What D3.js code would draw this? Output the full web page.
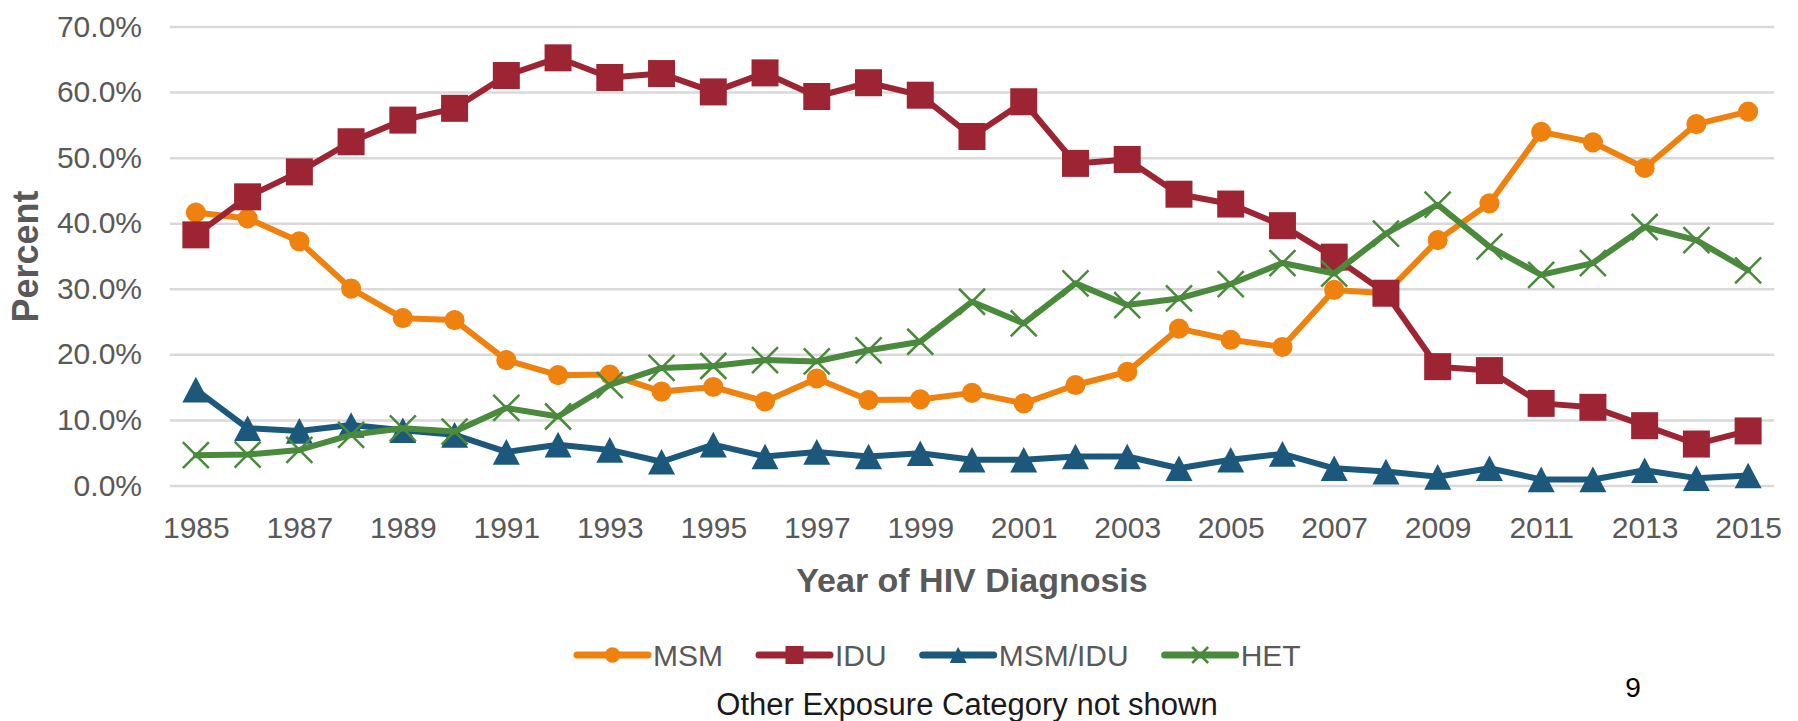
<!DOCTYPE html>
<html>
<head>
<meta charset="utf-8">
<script src="https://cdn.jsdelivr.net/npm/d3@7"></script>
<style>
  html, body { margin: 0; padding: 0; background: #ffffff; }
  svg { display: block; }
  text { font-family: "Liberation Sans", Arial, sans-serif; }
</style>
</head>
<body>
<svg id="chart" width="1798" height="721"></svg>
<script>
// ---------------- data ----------------
const years = d3.range(1985, 2016);
const xTickLabels = [1985, 1987, 1989, 1991, 1993, 1995, 1997, 1999, 2001, 2003, 2005, 2007, 2009, 2011, 2013, 2015];
const yTicks = [0, 10, 20, 30, 40, 50, 60, 70];

const msm = [41.7, 40.8, 37.3, 30.1, 25.6, 25.3, 19.2, 16.9, 17.0, 14.4, 15.1, 12.9, 16.4, 13.1, 13.2, 14.2,
             12.6, 15.4, 17.4, 24.0, 22.3, 21.2, 29.9, 29.4, 37.5, 43.1, 54.0, 52.4, 48.5, 55.2, 57.1];
const idu = [38.3, 44.1, 47.9, 52.5, 55.8, 57.6, 62.6, 65.3, 62.3, 62.9, 60.1, 63.0, 59.4, 61.5, 59.6, 53.3,
             58.6, 49.2, 49.8, 44.5, 43.0, 39.7, 34.9, 29.4, 18.2, 17.6, 12.6, 12.0, 9.2, 6.4, 8.4];
const msmIdu = [14.7, 8.8, 8.4, 9.3, 8.5, 7.8, 5.2, 6.3, 5.5, 3.7, 6.3, 4.5, 5.2, 4.5, 5.0, 4.0,
                4.0, 4.5, 4.5, 2.7, 4.0, 4.9, 2.7, 2.2, 1.4, 2.7, 1.0, 1.0, 2.4, 1.2, 1.6];
const het = [4.7, 4.8, 5.5, 7.8, 8.8, 8.3, 11.9, 10.6, 15.4, 18.0, 18.3, 19.2, 19.0, 20.7, 22.0, 28.1,
             24.8, 30.9, 27.6, 28.6, 30.8, 34.0, 32.4, 38.5, 42.9, 36.5, 32.2, 34.0, 39.5, 37.5, 32.9];

const seriesNames = ["MSM", "IDU", "MSM/IDU", "HET"];
const seriesValues = [msm, idu, msmIdu, het];
const seriesColors = ["#ef820f", "#9d2533", "#1b587c", "#4a8a3c"];
const seriesMarkers = ["circle", "square", "triangle", "x"];

const yAxisTitle = "Percent";
const xAxisTitle = "Year of HIV Diagnosis";
const footnote = "Other Exposure Category not shown";
const pageNumber = "9";

// ---------------- layout ----------------
const svg = d3.select("#chart");
const plot = { left: 170, right: 1774, top: 27, bottom: 486 };

const x = d3.scalePoint().domain(years).range([plot.left, plot.right]).padding(0.5);
const y = d3.scaleLinear().domain([0, 70]).range([plot.bottom, plot.top]);

// gridlines
svg.append("g").selectAll("line").data(yTicks).join("line")
  .attr("x1", plot.left).attr("x2", plot.right)
  .attr("y1", d => y(d)).attr("y2", d => y(d))
  .attr("stroke", "#d9d9d9").attr("stroke-width", 2.5);

// y axis (labels only)
const yAxis = d3.axisLeft(y).tickValues(yTicks).tickSize(0).tickPadding(0)
  .tickFormat(d => d.toFixed(1) + "%");
const gy = svg.append("g").attr("transform", "translate(142,0)").call(yAxis);
gy.select(".domain").remove();
gy.selectAll("text").attr("font-size", 30).attr("fill", "#595959")
  .attr("font-family", "'Liberation Sans', Arial, sans-serif").attr("dy", "0.3em");

// x axis (labels only)
const xAxis = d3.axisBottom(x).tickValues(xTickLabels).tickSize(0).tickPadding(0);
const gx = svg.append("g").attr("transform", "translate(0,515)").call(xAxis);
gx.select(".domain").remove();
gx.selectAll("text").attr("font-size", 30).attr("fill", "#595959")
  .attr("font-family", "'Liberation Sans', Arial, sans-serif").attr("dy", "0.75em");

// axis titles
svg.append("text")
  .attr("transform", `translate(38,${(plot.top + plot.bottom) / 2}) rotate(-90)`)
  .attr("text-anchor", "middle").attr("font-size", 36).attr("font-weight", "bold")
  .attr("fill", "#595959").text(yAxisTitle);

svg.append("text")
  .attr("x", (plot.left + plot.right) / 2).attr("y", 592)
  .attr("text-anchor", "middle").attr("font-size", 34).attr("font-weight", "bold")
  .attr("fill", "#595959").text(xAxisTitle);

// marker drawing
function drawMarker(g, type, color, size) {
  if (type === "circle") {
    g.append("circle").attr("r", size * 0.48).attr("fill", color);
  } else if (type === "square") {
    g.append("rect").attr("x", -size / 2).attr("y", -size / 2)
      .attr("width", size).attr("height", size).attr("fill", color);
  } else if (type === "triangle") {
    const h = size * 0.95, w = size;
    g.append("path").attr("d", `M0,${-h / 2}L${w / 2},${h / 2}L${-w / 2},${h / 2}Z`).attr("fill", color);
  } else if (type === "x") {
    const s = size / 2;
    g.append("path").attr("d", `M${-s},${-s}L${s},${s}M${-s},${s}L${s},${-s}`)
      .attr("stroke", color).attr("stroke-width", 2.5).attr("fill", "none");
  }
}
const markerSize = { circle: 21, square: 27, triangle: 27, x: 26 };

const line = d3.line().x((d, i) => x(years[i])).y(d => y(d));

seriesValues.forEach((vals, si) => {
  const g = svg.append("g");
  g.append("path").datum(vals).attr("d", line)
    .attr("fill", "none").attr("stroke", seriesColors[si])
    .attr("stroke-width", 6).attr("stroke-linejoin", "round").attr("stroke-linecap", "round");
  g.selectAll("g.m").data(vals).join("g").attr("class", "m")
    .attr("transform", (d, i) => `translate(${x(years[i])},${y(d)})`)
    .each(function () { drawMarker(d3.select(this), seriesMarkers[si], seriesColors[si], markerSize[seriesMarkers[si]]); });
});

// legend
const legendY = 655;
const legendSizes = { circle: 16, square: 18, triangle: 17, x: 16 };
let lx = 577;
const legend = svg.append("g");
seriesNames.forEach((name, si) => {
  const item = legend.append("g");
  item.append("line").attr("x1", lx).attr("x2", lx + 71).attr("y1", legendY).attr("y2", legendY)
    .attr("stroke", seriesColors[si]).attr("stroke-width", 7).attr("stroke-linecap", "round");
  const mg = item.append("g").attr("transform", `translate(${lx + 35.5},${legendY})`);
  drawMarker(mg, seriesMarkers[si], seriesColors[si], legendSizes[seriesMarkers[si]]);
  const t = item.append("text").attr("x", lx + 76).attr("y", legendY + 11)
    .attr("font-size", 30).attr("fill", "#595959").text(name);
  const w = t.node().getComputedTextLength();
  lx = lx + 76 + w + 36;
});

// footnote & page number
svg.append("text").attr("x", 967).attr("y", 715).attr("text-anchor", "middle")
  .attr("font-size", 31).attr("fill", "#1a1a1a").text(footnote);

svg.append("text").attr("x", 1633).attr("y", 697).attr("text-anchor", "middle")
  .attr("font-size", 28).attr("fill", "#000000")
  .attr("font-family", "'Noto Sans', sans-serif").text(pageNumber);
</script>
</body>
</html>
